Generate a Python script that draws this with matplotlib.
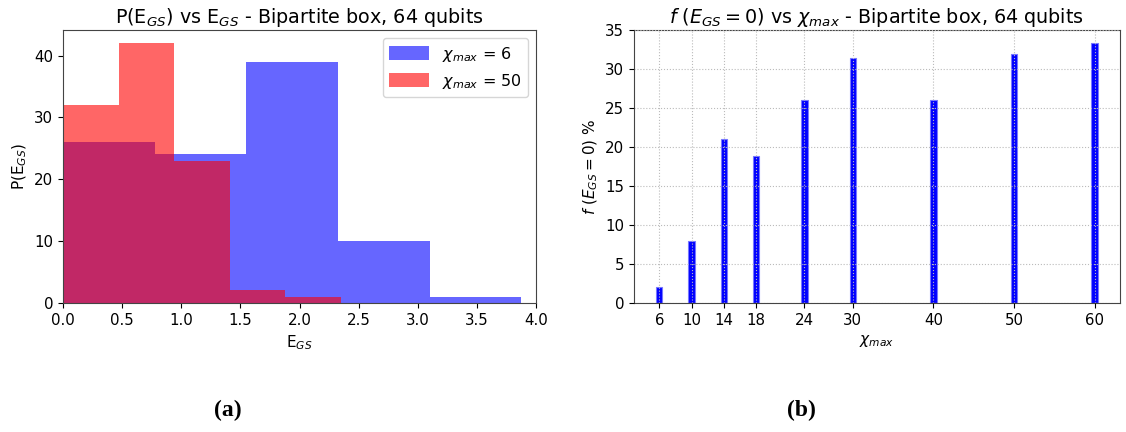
import numpy as np
import matplotlib
matplotlib.use('Agg')
import matplotlib.pyplot as plt
from matplotlib.ticker import MultipleLocator

# histogram data: bin edges and counts
edges_6 = [0.0, 0.775, 1.55, 2.325, 3.1, 3.875]
counts_6 = [26, 24, 39, 10, 1]
edges_50 = [0.0, 0.47, 0.94, 1.41, 1.88, 2.35]
counts_50 = [32, 42, 23, 2, 1]

# fraction of zero-entanglement ground states per chi_max
chi_values = [6, 10, 14, 18, 24, 30, 40, 50, 60]
frac_zero = [2, 8, 21, 18.8, 26, 31.4, 26, 32, 33.3]

plt.rcParams['font.size'] = 11
plt.rcParams['xtick.labelsize'] = 10.8
plt.rcParams['ytick.labelsize'] = 10.8

fig = plt.figure(figsize=(11.26, 4.32), dpi=100)
ax1 = fig.add_axes([0.056, 0.299, 0.420, 0.631])
ax2 = fig.add_axes([0.563, 0.299, 0.4316, 0.631])

# (a) histograms
ax1.hist(edges_6[:-1], bins=edges_6, weights=counts_6, color='blue', alpha=0.6,
         label=r'$\chi_{max}$ = 6')
ax1.hist(edges_50[:-1], bins=edges_50, weights=counts_50, color='red', alpha=0.6,
         label=r'$\chi_{max}$ = 50')
ax1.set_xlim(0, 4)
ax1.yaxis.set_major_locator(MultipleLocator(10))
ax1.set_title(r'P(E$_{GS}$) vs E$_{GS}$ - Bipartite box, 64 qubits', fontsize=13.8, pad=5)
ax1.set_xlabel(r'E$_{GS}$')
ax1.set_ylabel(r'P(E$_{GS}$)')
ax1.legend(loc='upper right', fontsize=11.5, handlelength=2.5, handleheight=1.0)

# (b) bars
ax2.bar(chi_values, frac_zero, width=0.8, color='blue', edgecolor='#7777ff', linewidth=0.8)
ax2.set_xticks(chi_values)
ax2.set_ylim(0, 35)
ax2.set_axisbelow(False)
ax2.grid(True, linestyle=':', color='#bbbbbb', linewidth=0.8)
ax2.set_title(r'$f\ (E_{GS}=0)$ vs $\chi_{max}$ - Bipartite box, 64 qubits', fontsize=13.8, pad=5)
ax2.set_xlabel(r'$\chi_{max}$')
ax2.set_ylabel(r'$f\ (E_{GS}=0)$ %')

for ax in (ax1, ax2):
    for s in ax.spines.values():
        s.set_color('#444444')

fig.text(0.202, 0.05, '(a)', fontsize=17, fontweight='bold', family='Liberation Serif',
         ha='center', va='center')
fig.text(0.712, 0.05, '(b)', fontsize=17, fontweight='bold', family='Liberation Serif',
         ha='center', va='center')

fig.savefig('out.png', dpi=100)
